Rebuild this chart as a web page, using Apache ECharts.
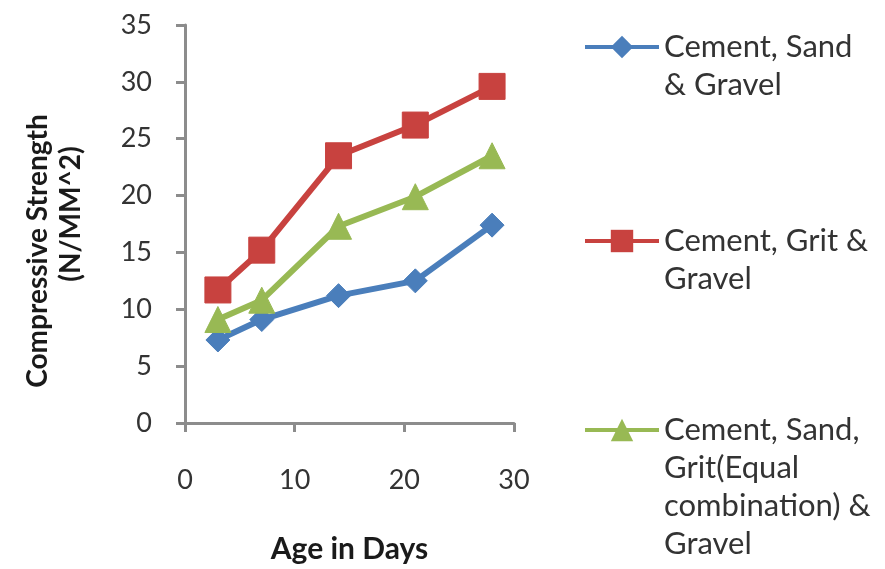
<!DOCTYPE html>
<html>
<head>
<meta charset="utf-8">
<script src="https://cdn.jsdelivr.net/npm/echarts@6/dist/echarts.min.js"></script>
<style>html,body{margin:0;padding:0;background:#fff;}#chart{width:885px;height:569px;}</style>
</head>
<body>
<div id="chart"></div>
<script>
const ageDays = [3, 7, 14, 21, 28];
const sandGravel = [7.3, 9.1, 11.2, 12.5, 17.4];
const gritGravel = [11.7, 15.2, 23.5, 26.2, 29.6];
const sandGritGravel = [9.1, 10.8, 17.3, 19.9, 23.5];
const seriesNames = [
  'Cement, Sand\n& Gravel',
  'Cement, Grit &\nGravel',
  'Cement, Sand,\nGrit(Equal\ncombination) &\nGravel'
];
const xTicks = [0, 10, 20, 30];
const yTicks = [0, 5, 10, 15, 20, 25, 30, 35];

const FONT = 'Lato';
const TXT = '#333333';
const AXIS = '#8c8c8c';
const LH = 38;

function pairs(vals) { return ageDays.map((d, i) => [d, vals[i]]); }

const chart = echarts.init(document.getElementById('chart'), null, {renderer: 'canvas'});

function legendFor(name, top, lines) {
  return {
    show: true,
    orient: 'vertical',
    left: 583,
    top: top,
    padding: 0,
    itemWidth: 74,
    itemHeight: 28,
    itemGap: 0,
    data: [name],
    selectedMode: false,
    lineStyle: {width: 4},
    formatter: function (n) { return '\n'.repeat(lines - 1) + n; },
    textStyle: {
      fontFamily: FONT,
      fontSize: 31,
      color: TXT,
      lineHeight: LH
    }
  };
}

const option = {
  backgroundColor: '#ffffff',
  animation: false,
  grid: {left: 185, top: 25, right: 371, bottom: 144, containLabel: false},
  legend: [
    legendFor(seriesNames[0], -10, 2),
    legendFor(seriesNames[1], 184, 2),
    legendFor(seriesNames[2], 297, 4)
  ],
  xAxis: {
    type: 'value',
    min: xTicks[0], max: xTicks[xTicks.length - 1], interval: 10,
    name: 'Age in Days',
    nameLocation: 'middle',
    nameGap: 111,
    nameTextStyle: {fontFamily: FONT, fontSize: 30, fontWeight: 'bold', color: '#1a1a1a'},
    axisLine: {show: true, lineStyle: {color: AXIS, width: 3}},
    axisTick: {show: true, inside: false, length: 9, lineStyle: {color: AXIS, width: 3}},
    axisLabel: {fontFamily: FONT, fontSize: 27, color: TXT, margin: 44},
    splitLine: {show: false}
  },
  yAxis: {
    type: 'value',
    min: yTicks[0], max: yTicks[yTicks.length - 1], interval: 5,
    name: '{a|Compressive Strength}\n{b|(N/MM^2)}',
    nameLocation: 'middle',
    nameGap: 98,
    nameRotate: 90,
    nameTextStyle: {
      fontFamily: FONT, fontSize: 28, fontWeight: 'bold', color: '#1a1a1a', lineHeight: 33,
      rich: {
        a: {fontFamily: FONT, fontSize: 28, fontWeight: 'bold', color: '#1a1a1a', lineHeight: 33, padding: [0, 54, 0, 0]},
        b: {fontFamily: FONT, fontSize: 28, fontWeight: 'bold', color: '#1a1a1a', lineHeight: 33, padding: [0, 0, 0, 20]}
      }
    },
    axisLine: {show: true, lineStyle: {color: AXIS, width: 3}},
    axisTick: {show: true, inside: false, length: 9, lineStyle: {color: AXIS, width: 3}},
    axisLabel: {fontFamily: FONT, fontSize: 27, color: TXT, margin: 33},
    splitLine: {show: false}
  },
  series: [
    {
      name: seriesNames[0], type: 'line', data: pairs(sandGravel),
      symbol: 'diamond', symbolSize: 24,
      lineStyle: {color: '#4A7EBB', width: 6},
      itemStyle: {color: '#4A7EBB', borderColor: '#4A7EBB'}
    },
    {
      name: seriesNames[1], type: 'line', data: pairs(gritGravel),
      symbol: 'rect', symbolSize: 26,
      lineStyle: {color: '#C8423F', width: 6},
      itemStyle: {color: '#C8423F', borderColor: '#C8423F'}
    },
    {
      name: seriesNames[2], type: 'line', data: pairs(sandGritGravel),
      symbol: 'triangle', symbolSize: 26,
      lineStyle: {color: '#98B954', width: 6},
      itemStyle: {color: '#98B954', borderColor: '#98B954'}
    }
  ]
};
chart.setOption(option);
</script>
</body>
</html>
